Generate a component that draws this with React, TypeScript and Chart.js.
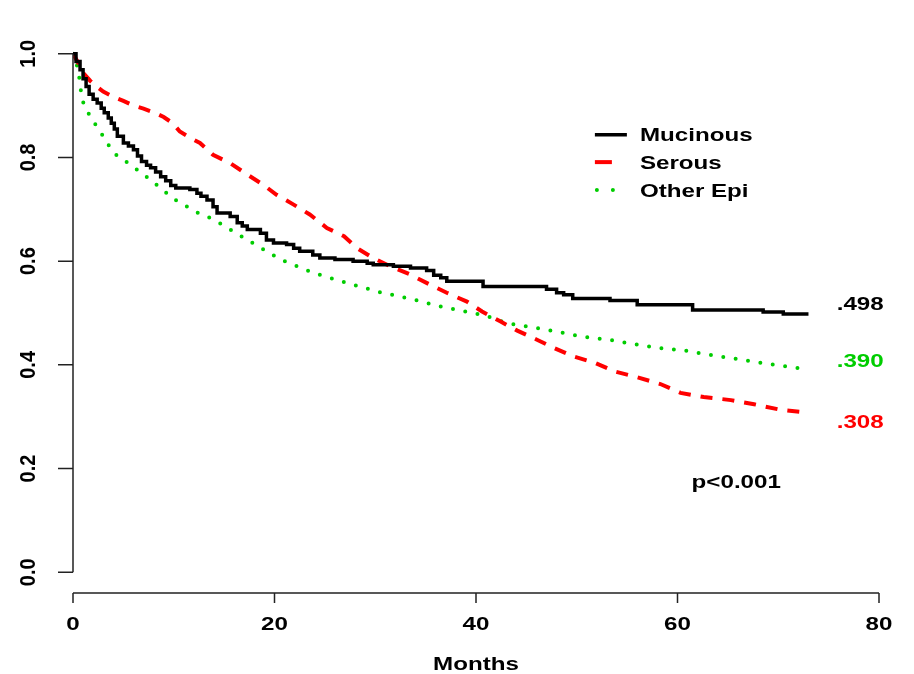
import React, { useEffect, useRef } from "react";
import { Chart, registerables } from "chart.js";

Chart.register(...registerables);

// ---- data (months, survival proportion) ----
const mucinousCurve: [number, number][] = [
  [0, 1.0], [0.3, 0.985], [0.7, 0.969], [1.0, 0.952], [1.3, 0.937], [1.6, 0.922],
  [2.0, 0.912], [2.4, 0.905], [2.8, 0.895], [3.1, 0.886], [3.5, 0.876], [3.8, 0.866],
  [4.1, 0.855], [4.4, 0.841], [5.0, 0.828], [5.5, 0.822], [6.0, 0.815], [6.4, 0.803],
  [6.8, 0.792], [7.3, 0.785], [7.7, 0.78], [8.2, 0.772], [8.7, 0.763], [9.2, 0.755],
  [9.7, 0.746], [10.2, 0.741], [11.6, 0.738], [12.3, 0.731], [12.7, 0.725], [13.3, 0.718],
  [13.9, 0.705], [14.3, 0.693], [15.6, 0.686], [16.3, 0.674], [16.8, 0.668], [17.3, 0.661],
  [18.6, 0.654], [19.2, 0.641], [19.9, 0.635], [21.2, 0.632], [21.9, 0.625], [22.5, 0.619],
  [23.8, 0.612], [24.5, 0.606], [26.0, 0.603], [27.8, 0.6], [29.2, 0.596], [29.8, 0.593],
  [31.8, 0.59], [33.5, 0.587], [35.1, 0.582], [35.8, 0.573], [36.5, 0.568], [37.1, 0.561],
  [40.7, 0.551], [47.0, 0.546], [48.0, 0.539], [48.7, 0.535], [49.6, 0.528], [53.3, 0.524],
  [56.0, 0.516], [61.5, 0.506], [68.5, 0.502], [70.5, 0.498], [73.0, 0.498],
];

const serousCurve: [number, number][] = [
  [0, 1.0], [0.5, 0.983], [1.0, 0.963], [1.7, 0.948], [2.4, 0.936], [3.0, 0.927],
  [4.0, 0.917], [5.0, 0.909], [6.0, 0.9], [7.0, 0.894], [8.0, 0.887], [9.0, 0.878],
  [9.9, 0.866], [10.6, 0.85], [11.9, 0.835], [12.6, 0.828], [13.9, 0.805], [15.6, 0.789],
  [17.3, 0.767], [18.9, 0.747], [20.2, 0.728], [21.9, 0.709], [23.5, 0.69], [25.2, 0.664],
  [26.9, 0.648], [28.2, 0.625], [29.8, 0.606], [31.5, 0.59], [33.5, 0.574], [35.4, 0.555],
  [37.1, 0.539], [39.1, 0.522], [40.6, 0.503], [42.4, 0.484], [44.1, 0.466], [46.0, 0.449],
  [47.7, 0.433], [49.7, 0.416], [51.8, 0.404], [53.8, 0.387], [56.0, 0.376], [58.3, 0.363],
  [60.3, 0.346], [62.6, 0.338], [65.3, 0.332], [67.6, 0.324], [70.3, 0.313], [72.8, 0.308],
];

const otherEpiCurve: [number, number][] = [
  [0, 1.0], [0.3, 0.985], [0.56, 0.963], [0.9, 0.911], [1.7, 0.879], [2.7, 0.85],
  [4.0, 0.809], [5.7, 0.786], [7.7, 0.757], [10.0, 0.72], [12.3, 0.694], [14.0, 0.68],
  [17.3, 0.641], [20.6, 0.603], [23.9, 0.577], [27.2, 0.558], [30.5, 0.54], [33.8, 0.526],
  [36.4, 0.513], [38.7, 0.504], [41.1, 0.494], [43.1, 0.48], [45.7, 0.472], [48.0, 0.464],
  [50.7, 0.454], [53.3, 0.448], [56.0, 0.439], [58.3, 0.432], [60.9, 0.427], [63.6, 0.418],
  [66.3, 0.41], [68.6, 0.403], [71.2, 0.396], [72.8, 0.391],
];

const seriesNames = ["Mucinous", "Serous", "Other Epi"];
const seriesColors = ["#000000", "#FF0000", "#00CD00"];
const endLabels = [".498", ".308", ".390"];
const xTicks = [0, 20, 40, 60, 80];
const xTickLabels = ["0", "20", "40", "60", "80"];
const yTicks = [0, 0.2, 0.4, 0.6, 0.8, 1.0];
const yTickLabels = ["0.0", "0.2", "0.4", "0.6", "0.8", "1.0"];
const xTitle = "Months";
const pValueText = "p<0.001";

const FONT = '"Liberation Sans", Arial, Helvetica, sans-serif';
const SX = 1.38;

function drawText(
  ctx: CanvasRenderingContext2D,
  text: string,
  x: number,
  y: number,
  align: CanvasTextAlign,
  color: string,
  size = 17.5,
  sx = SX
) {
  ctx.save();
  ctx.font = `bold ${size}px ${FONT}`;
  ctx.fillStyle = color;
  ctx.textAlign = align;
  ctx.textBaseline = "alphabetic";
  ctx.translate(x, y);
  ctx.scale(sx, 1);
  ctx.fillText(text, 0, 0);
  ctx.restore();
}

const rDecorations = {
  id: "rDecorations",
  afterDraw(chart: any) {
    const ctx: CanvasRenderingContext2D = chart.ctx;
    const xs = chart.scales.x;
    const ys = chart.scales.y;
    const axisBottom = chart.chartArea.bottom;
    const x0 = xs.getPixelForValue(0);

    ctx.save();
    ctx.strokeStyle = "#222";
    ctx.lineWidth = 1.5;
    ctx.setLineDash([]);
    // y axis
    ctx.beginPath();
    ctx.moveTo(x0, ys.getPixelForValue(yTicks[0]));
    ctx.lineTo(x0, ys.getPixelForValue(yTicks[yTicks.length - 1]));
    yTicks.forEach((v) => {
      const py = ys.getPixelForValue(v);
      ctx.moveTo(x0, py);
      ctx.lineTo(x0 - 15, py);
    });
    ctx.stroke();
    // x axis
    ctx.beginPath();
    ctx.moveTo(xs.getPixelForValue(xTicks[0]), axisBottom);
    ctx.lineTo(xs.getPixelForValue(xTicks[xTicks.length - 1]), axisBottom);
    xTicks.forEach((v) => {
      const px = xs.getPixelForValue(v);
      ctx.moveTo(px, axisBottom);
      ctx.lineTo(px, axisBottom + 10);
    });
    ctx.stroke();
    ctx.restore();

    // x tick labels
    xTicks.forEach((v, i) => {
      drawText(ctx, xTickLabels[i], xs.getPixelForValue(v), axisBottom + 37, "center", "#000");
    });
    // y tick labels (rotated)
    yTicks.forEach((v, i) => {
      ctx.save();
      ctx.font = `bold 20px ${FONT}`;
      ctx.fillStyle = "#000";
      ctx.textAlign = "center";
      ctx.textBaseline = "alphabetic";
      ctx.translate(35, ys.getPixelForValue(v));
      ctx.rotate(-Math.PI / 2);
      ctx.scale(1, 1.1);
      ctx.fillText(yTickLabels[i], 0, 0);
      ctx.restore();
    });
    // axis title
    drawText(ctx, xTitle, xs.getPixelForValue(40), axisBottom + 77, "center", "#000");

    // end-of-curve labels
    const labelX = xs.getPixelForValue(75.8);
    drawText(ctx, endLabels[0], labelX, ys.getPixelForValue(0.505), "left", seriesColors[0]);
    drawText(ctx, endLabels[2], labelX, ys.getPixelForValue(0.396), "left", seriesColors[2]);
    drawText(ctx, endLabels[1], labelX, ys.getPixelForValue(0.278), "left", seriesColors[1]);

    // p value
    drawText(ctx, pValueText, xs.getPixelForValue(61.4), ys.getPixelForValue(0.162), "left", "#000");

    // legend
    const lx1 = xs.getPixelForValue(51.8);
    const lx2 = lx1 + 32;
    const textX = lx1 + 45;
    const rows = [0.844, 0.791, 0.737];
    const dashes = [[], [17, 100], [0, 16]];
    const widths = [3.5, 4, 4];
    rows.forEach((rv, i) => {
      const py = ys.getPixelForValue(rv);
      ctx.save();
      ctx.strokeStyle = seriesColors[i];
      ctx.lineWidth = widths[i];
      ctx.lineCap = i === 2 ? "round" : "butt";
      ctx.setLineDash(dashes[i]);
      ctx.beginPath();
      ctx.moveTo(i === 2 ? lx1 + 2 : lx1, py);
      ctx.lineTo(lx2, py);
      ctx.stroke();
      ctx.restore();
      drawText(ctx, seriesNames[i], textX, py + 6.5, "left", "#000");
    });
  },
};

export default function App() {
  const canvasRef = useRef<HTMLCanvasElement | null>(null);

  useEffect(() => {
    const canvas = canvasRef.current;
    if (!canvas) return;
    const toXY = (arr: [number, number][]) => arr.map(([x, y]) => ({ x, y }));
    const chart = new Chart(canvas, {
      type: "line",
      data: {
        datasets: [
          {
            label: seriesNames[0],
            data: toXY(mucinousCurve),
            borderColor: seriesColors[0],
            borderWidth: 3.5,
            stepped: "before",
            pointRadius: 0,
            fill: false,
          },
          {
            label: seriesNames[1],
            data: toXY(serousCurve),
            borderColor: seriesColors[1],
            borderWidth: 4,
            borderDash: [12, 10],
            tension: 0,
            pointRadius: 0,
            fill: false,
          },
          {
            label: seriesNames[2],
            data: toXY(otherEpiCurve),
            borderColor: seriesColors[2],
            borderWidth: 4,
            borderDash: [0, 12.5],
            borderCapStyle: "round",
            tension: 0,
            pointRadius: 0,
            fill: false,
          },
        ],
      },
      options: {
        animation: false,
        responsive: false,
        maintainAspectRatio: false,
        devicePixelRatio: 1,
        layout: { padding: { left: 73, right: 35, top: 33, bottom: 81 } },
        scales: {
          x: { type: "linear", min: 0, max: 80, display: false },
          y: { type: "linear", min: -0.04, max: 1.04, display: false },
        },
        plugins: {
          legend: { display: false },
          tooltip: { enabled: false },
        },
      },
      plugins: [rDecorations],
    });
    return () => chart.destroy();
  }, []);

  return (
    <div style={{ position: "absolute", left: 0, top: 0, width: 914, height: 674, background: "#fff" }}>
      <canvas ref={canvasRef} width={914} height={674} style={{ width: 914, height: 674, display: "block" }} />
    </div>
  );
}
